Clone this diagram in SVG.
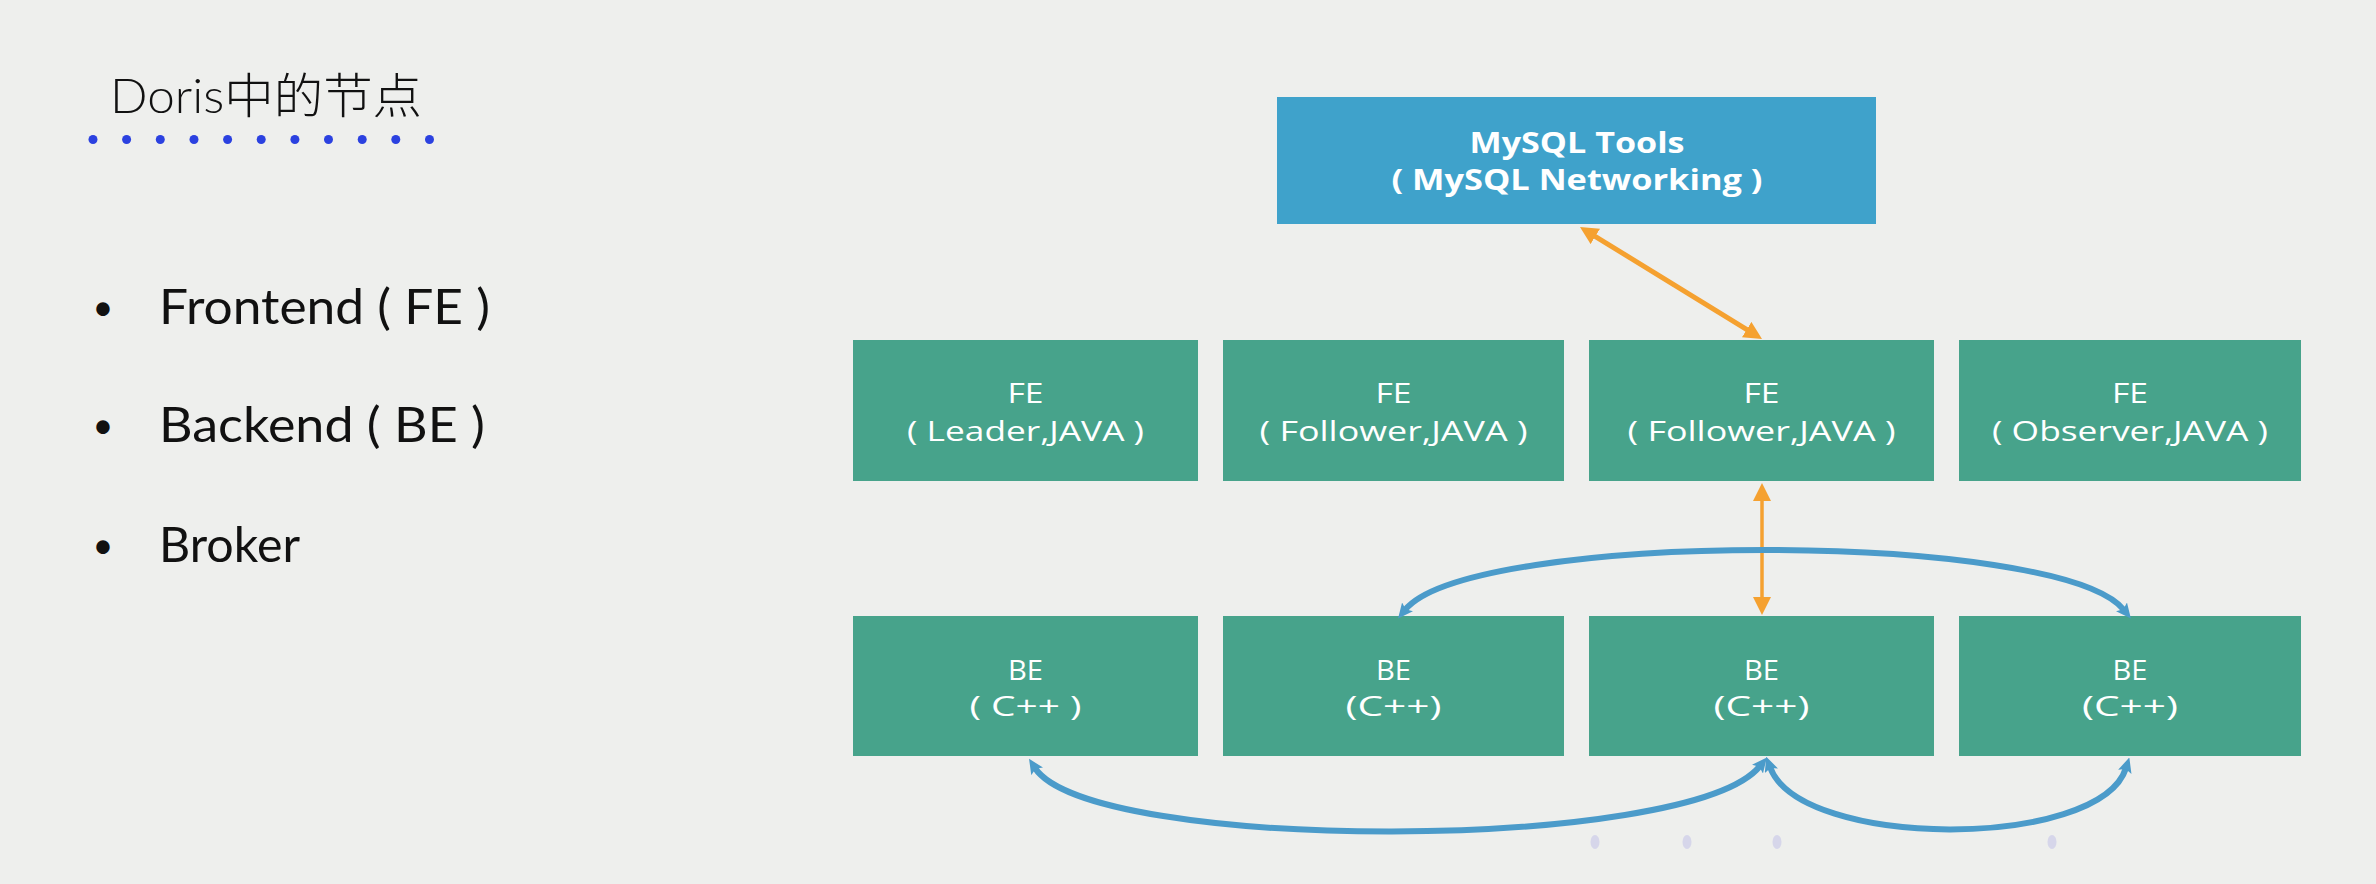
<svg xmlns="http://www.w3.org/2000/svg" width="2376" height="884" viewBox="0 0 2376 884">
<style>
.bg{fill:#eeefed}
.fe{fill:#47a38b}
.mysql{fill:#3fa2cb}
.t{fill:#ffffff;font-family:"Open Sans","Noto Sans",sans-serif;text-anchor:middle}
.t1{font-size:28px}
.t2{font-size:27px}
.tb{font-weight:bold;font-size:29px}
.left{fill:#111111;font-family:Lato,"Noto Sans CJK SC",sans-serif}
.ttl{font-weight:300}
.bul{fill:#111111;font-family:Lato,sans-serif;font-size:36px;text-anchor:middle}
.org{fill:none;stroke:#f5a130}
.blu{fill:none;stroke:#4b9bca;stroke-width:6}
</style>
<defs>
<marker id="ao" markerUnits="userSpaceOnUse" viewBox="0 0 18 18" markerWidth="18" markerHeight="18" refX="6" refY="9" orient="auto-start-reverse">
<path d="M0,0 L18,9 L0,18 Z" fill="#f5a130"/>
</marker>
<marker id="ab" markerUnits="userSpaceOnUse" viewBox="0 0 15 14" markerWidth="15" markerHeight="14" refX="4" refY="7" orient="auto-start-reverse">
<path d="M0,0 L15,7 L0,14 L3,7 Z" fill="#4b9bca"/>
</marker>
</defs>
<rect class="bg" x="0" y="0" width="2376" height="884"/>

<g id="title">
<text class="left ttl" x="110" y="113" font-size="48" textLength="312" lengthAdjust="spacingAndGlyphs">Doris中的节点</text>
<g fill="#2b41e0">
<circle cx="93" cy="139.5" r="4.5"/><circle cx="126.6" cy="139.5" r="4.5"/><circle cx="160.3" cy="139.5" r="4.5"/><circle cx="194" cy="139.5" r="4.5"/><circle cx="227.6" cy="139.5" r="4.5"/><circle cx="261.2" cy="139.5" r="4.5"/><circle cx="294.9" cy="139.5" r="4.5"/><circle cx="328.5" cy="139.5" r="4.5"/><circle cx="362.2" cy="139.5" r="4.5"/><circle cx="395.8" cy="139.5" r="4.5"/><circle cx="429.5" cy="139.5" r="4.5"/>
</g>
</g>

<g id="bullets">
<text class="bul" x="103" y="320">•</text>
<text class="left" x="159" y="324" font-size="48" textLength="331" lengthAdjust="spacingAndGlyphs">Frontend ( FE )</text>
<text class="bul" x="103" y="438">•</text>
<text class="left" x="159" y="442" font-size="48" textLength="326" lengthAdjust="spacingAndGlyphs">Backend ( BE )</text>
<text class="bul" x="103" y="558">•</text>
<text class="left" x="159" y="562" font-size="48" textLength="141" lengthAdjust="spacingAndGlyphs">Broker</text>
</g>

<g id="mysql">
<rect class="mysql" x="1277" y="97" width="599" height="127"/>
<text class="t tb" x="1577" y="153" textLength="215" lengthAdjust="spacingAndGlyphs">MySQL Tools</text>
<text class="t tb" x="1577" y="190" textLength="371" lengthAdjust="spacingAndGlyphs">( MySQL Networking )</text>
</g>

<g id="fe1">
<rect class="fe" x="853" y="340" width="345" height="141"/>
<text class="t t1" x="1025.5" y="403" textLength="36" lengthAdjust="spacingAndGlyphs">FE</text>
<text class="t t2" x="1025.5" y="441" textLength="237" lengthAdjust="spacingAndGlyphs">( Leader,JAVA )</text>
</g>
<g id="fe2">
<rect class="fe" x="1223" y="340" width="341" height="141"/>
<text class="t t1" x="1393.5" y="403" textLength="36" lengthAdjust="spacingAndGlyphs">FE</text>
<text class="t t2" x="1393.5" y="441" textLength="268" lengthAdjust="spacingAndGlyphs">( Follower,JAVA )</text>
</g>
<g id="fe3">
<rect class="fe" x="1589" y="340" width="345" height="141"/>
<text class="t t1" x="1761.5" y="403" textLength="36" lengthAdjust="spacingAndGlyphs">FE</text>
<text class="t t2" x="1761.5" y="441" textLength="268" lengthAdjust="spacingAndGlyphs">( Follower,JAVA )</text>
</g>
<g id="fe4">
<rect class="fe" x="1959" y="340" width="342" height="141"/>
<text class="t t1" x="2130" y="403" textLength="36" lengthAdjust="spacingAndGlyphs">FE</text>
<text class="t t2" x="2130" y="441" textLength="276" lengthAdjust="spacingAndGlyphs">( Observer,JAVA )</text>
</g>

<g id="be1">
<rect class="fe" x="853" y="616" width="345" height="140"/>
<text class="t t1" x="1025.5" y="680" textLength="35" lengthAdjust="spacingAndGlyphs">BE</text>
<text class="t t2" x="1025.5" y="716" textLength="112" lengthAdjust="spacingAndGlyphs">( C++ )</text>
</g>
<g id="be2">
<rect class="fe" x="1223" y="616" width="341" height="140"/>
<text class="t t1" x="1393.5" y="680" textLength="35" lengthAdjust="spacingAndGlyphs">BE</text>
<text class="t t2" x="1393.5" y="716" textLength="96" lengthAdjust="spacingAndGlyphs">(C++)</text>
</g>
<g id="be3">
<rect class="fe" x="1589" y="616" width="345" height="140"/>
<text class="t t1" x="1761.5" y="680" textLength="35" lengthAdjust="spacingAndGlyphs">BE</text>
<text class="t t2" x="1761.5" y="716" textLength="96" lengthAdjust="spacingAndGlyphs">(C++)</text>
</g>
<g id="be4">
<rect class="fe" x="1959" y="616" width="342" height="140"/>
<text class="t t1" x="2130" y="680" textLength="35" lengthAdjust="spacingAndGlyphs">BE</text>
<text class="t t2" x="2130" y="716" textLength="96" lengthAdjust="spacingAndGlyphs">(C++)</text>
</g>

<g id="connectors">
<path class="org" stroke-width="5" d="M1590.2,233.3 L1751.8,332.7" marker-start="url(#ao)" marker-end="url(#ao)"/>
<path class="org" stroke-width="3.5" d="M1762,495 L1762,603" marker-start="url(#ao)" marker-end="url(#ao)"/>
<path class="blu" d="M1405,610 C1470,530 2060,530 2124,610" marker-start="url(#ab)" marker-end="url(#ab)"/>
<path class="blu" d="M1035,768 C1090,853 1690,853 1760,766" marker-start="url(#ab)" marker-end="url(#ab)"/>
<path class="blu" d="M1770,767 C1800,850 2100,850 2126,768" marker-start="url(#ab)" marker-end="url(#ab)"/>
</g>

<g id="faint-dots" fill="#d6d6ea">
<ellipse cx="1595" cy="842" rx="4.5" ry="7"/>
<ellipse cx="1687" cy="842" rx="4.5" ry="7"/>
<ellipse cx="1777" cy="842" rx="4.5" ry="7"/>
<ellipse cx="2052" cy="842" rx="4.5" ry="7"/>
</g>
</svg>
